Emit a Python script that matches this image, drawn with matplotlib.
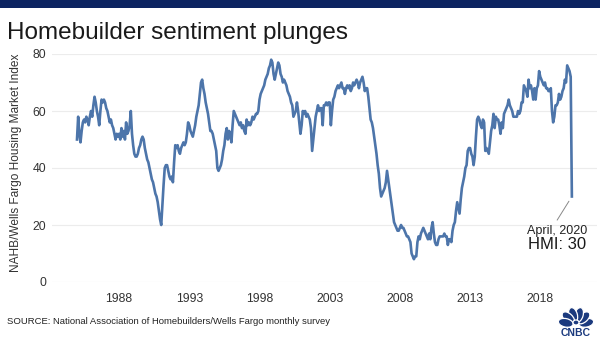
import matplotlib
matplotlib.use("Agg")
import matplotlib.pyplot as plt
from matplotlib.patches import Rectangle, Ellipse
import numpy as np

# NAHB/Wells Fargo HMI, monthly from Jan 1985 to Apr 2020
start_year = 1985
hmi = [
    50, 58, 52, 49, 53, 56, 57, 56, 58, 57, 55, 58,  # 1985
    60, 58, 62, 65, 63, 60, 58, 55, 60, 64, 63, 64,  # 1986
    63, 61, 60, 58, 56, 57, 55, 54, 52, 50, 52, 51,  # 1987
    52, 50, 54, 51, 53, 50, 56, 52, 53, 55, 60, 52,  # 1988
    48, 45, 44, 44, 45, 47, 48, 50, 51, 50, 47, 45,  # 1989
    43, 42, 40, 38, 36, 35, 33, 31, 30, 28, 25, 22,  # 1990
    20, 27, 34, 40, 41, 41, 39, 37, 36, 37, 35, 42,  # 1991
    48, 47, 48, 46, 45, 47, 48, 49, 48, 49, 52, 56,  # 1992
    55, 53, 52, 51, 53, 55, 58, 60, 62, 66, 70, 71,  # 1993
    68, 66, 63, 61, 59, 56, 53, 53, 52, 50, 48, 46,  # 1994
    40, 39, 40, 41, 43, 46, 48, 52, 54, 50, 53, 52,  # 1995
    49, 55, 60, 59, 58, 57, 56, 55, 56, 54, 55, 53,  # 1996
    52, 57, 55, 56, 55, 56, 58, 57, 58, 59, 59, 60,  # 1997
    64, 66, 67, 68, 69, 71, 72, 73, 75, 76, 78, 77,  # 1998
    73, 71, 73, 75, 77, 76, 73, 72, 70, 71, 70, 69,  # 1999
    67, 66, 65, 63, 62, 58, 59, 60, 63, 60, 56, 52,  # 2000
    55, 60, 59, 60, 58, 59, 58, 57, 54, 46, 50, 54,  # 2001
    58, 60, 62, 60, 61, 61, 55, 62, 62, 63, 62, 63,  # 2002
    63, 55, 60, 64, 65, 67, 68, 69, 68, 69, 70, 68,  # 2003
    68, 66, 68, 69, 68, 69, 67, 68, 70, 69, 70, 71,  # 2004
    70, 68, 70, 71, 72, 70, 67, 68, 68, 65, 61, 57,  # 2005
    56, 54, 51, 48, 45, 41, 38, 33, 30, 31, 32, 33,  # 2006
    35, 39, 36, 33, 30, 27, 24, 21, 20, 19, 18, 18,  # 2007
    19, 20, 19, 19, 18, 17, 16, 16, 15, 14, 10, 9,   # 2008
    8, 9, 9, 14, 16, 15, 17, 18, 19, 18, 17, 16,     # 2009
    15, 17, 15, 19, 21, 17, 14, 13, 13, 15, 16, 16,  # 2010
    16, 16, 17, 16, 16, 13, 15, 15, 14, 18, 20, 21,  # 2011
    25, 28, 26, 24, 29, 33, 35, 37, 40, 41, 46, 47,  # 2012
    47, 45, 44, 41, 44, 51, 57, 58, 57, 55, 54, 57,  # 2013
    56, 46, 47, 46, 45, 49, 53, 55, 59, 54, 58, 57,  # 2014
    57, 55, 52, 56, 54, 59, 60, 61, 62, 64, 62, 61,  # 2015
    60, 58, 58, 58, 58, 60, 59, 60, 63, 63, 69, 68,  # 2016
    67, 65, 71, 68, 69, 67, 64, 68, 64, 68, 69, 74,  # 2017
    72, 71, 70, 69, 70, 68, 68, 67, 67, 68, 60, 56,  # 2018
    58, 62, 62, 63, 66, 64, 65, 67, 68, 71, 70, 76,  # 2019
    75, 74, 72, 30,                                  # 2020
]
xtick_years = [1988, 1993, 1998, 2003, 2008, 2013, 2018]
ytick_values = [0, 20, 40, 60, 80]

NAVY = "#0c2461"
LOGO_COLOR = "#1b3a7e"
LINE_COLOR = "#4d75aa"
TEXT_COLOR = "#333333"
FONT = "Liberation Sans"

plt.rcParams["font.family"] = FONT

t = start_year + np.arange(len(hmi)) / 12.0

fig = plt.figure(figsize=(6, 3.37), dpi=100)
W, H = 600, 337

# top navy bar
fig.patches.append(Rectangle((0, 1 - 8 / H), 1, 8 / H, transform=fig.transFigure,
                             facecolor=NAVY, edgecolor="none"))

fig.text(7 / W, 1 - 39 / H, "Homebuilder sentiment plunges", fontsize=17.5,
         color="#1a1a1a", va="baseline", ha="left")

ax = fig.add_axes([52 / W, 55 / H, 545 / W, 228 / H])
ax.plot(t, hmi, color=LINE_COLOR, linewidth=1.9, solid_joinstyle="round",
        clip_on=False, zorder=3)

ax.set_xlim(1983.22, 2022.04)
ax.set_ylim(0, 80)
ax.set_xticks(xtick_years)
ax.set_xticklabels([str(y) for y in xtick_years])
ax.set_yticks(ytick_values)
ax.tick_params(length=0, labelsize=8.8, colors=TEXT_COLOR)
ax.tick_params(axis="x", pad=8)
ax.tick_params(axis="y", pad=4)
for s in ax.spines.values():
    s.set_visible(False)
ax.grid(True, axis="y", color="#ececec", linewidth=0.8)
ax.set_axisbelow(True)

fig.text(16 / W, 1 - 163 / H, "NAHB/Wells Fargo Housing Market Index",
         rotation=90, fontsize=8.6, color=TEXT_COLOR, ha="center", va="center")

# last point annotation
last = (t[-1], hmi[-1])
ax.annotate("", xy=last, xytext=(-10.6, -17.0), textcoords="offset points",
            arrowprops=dict(arrowstyle="-", color="#888888", lw=0.7,
                            shrinkA=0, shrinkB=4))
ax.annotate("April, 2020", xy=last, xytext=(-10.6, -24.8), textcoords="offset points",
            fontsize=9, color="#222222", ha="center", va="center")
ax.annotate(f"HMI: {hmi[-1]}", xy=last, xytext=(-10.6, -34.5), textcoords="offset points",
            fontsize=12, color="#1a1a1a", ha="center", va="center")

fig.text(7 / W, 1 - 322 / H,
         "SOURCE: National Association of Homebuilders/Wells Fargo monthly survey",
         fontsize=6.8, color="#222222", ha="left", va="center")

# CNBC logo
lax = fig.add_axes([553 / W, 1 - 337 / H, 46 / W, 36 / H])
lax.set_xlim(0, 46)
lax.set_ylim(0, 36)
lax.set_aspect("equal")
lax.axis("off")
base = np.array([23.0, 12.0])
for a in [12, 43, 74, 106, 137, 168]:
    r = np.deg2rad(a)
    c = base + 10.5 * np.array([np.cos(r), np.sin(r)])
    lax.add_patch(Ellipse(c, 15, 8.5, angle=a, facecolor=LOGO_COLOR,
                          edgecolor="white", linewidth=0.9))
lax.add_patch(Ellipse(base + np.array([0, 2.5]), 6, 5, facecolor=LOGO_COLOR,
                      edgecolor="white", linewidth=0.9))
lax.text(23, 4.5, "CNBC", fontsize=7.5, fontweight="bold", color=LOGO_COLOR,
         ha="center", va="center")

fig.savefig("out.png", dpi=100, facecolor="white")
